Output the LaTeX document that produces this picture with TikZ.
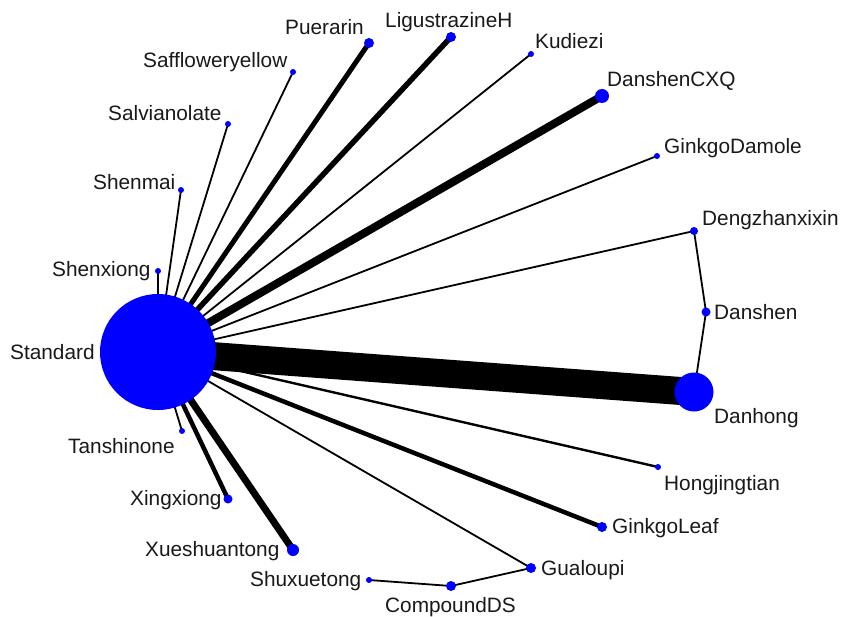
\documentclass[tikz,border=0pt]{standalone}
\usepackage{fontspec}
\setmainfont{Liberation Sans}
\pgfdeclarelayer{bg}
\pgfsetlayers{bg,main}
\begin{document}
\begin{tikzpicture}[x=1pt,y=-1pt,
  dot/.style={circle,fill=blue,draw=none,inner sep=0pt,minimum size=#1},
  lab/.style={font=\fontsize{20.8}{24}\selectfont,text=black!90,inner sep=0pt,text height=0.72em,text depth=0pt,anchor=west,yshift=-3pt},
  edge/.style={draw=black,line width=#1}]
\useasboundingbox (0,0) rectangle (842,617);
% nodes
\node[dot=116pt] (std) at (158,352) {};
\node[dot=39pt] (danhong) at (694,392) {};
\node[dot=9pt] (danshen) at (706,312) {};
\node[dot=8pt] (dengz) at (694,231) {};
\node[dot=6pt] (gdam) at (657,156) {};
\node[dot=14pt] (dcxq) at (602,96) {};
\node[dot=6pt] (kud) at (531,54) {};
\node[dot=10pt] (lig) at (451,37) {};
\node[dot=10pt] (pue) at (369,43) {};
\node[dot=6pt] (saf) at (293,72) {};
\node[dot=6pt] (salv) at (228,124) {};
\node[dot=6pt] (shenmai) at (181,190) {};
\node[dot=6pt] (shenx) at (158,271) {};
\node[dot=6pt] (tan) at (182,431) {};
\node[dot=9pt] (xingx) at (228,499) {};
\node[dot=12pt] (xue) at (293,550) {};
\node[dot=6pt] (shux) at (369,580) {};
\node[dot=10pt] (cds) at (451,586) {};
\node[dot=10pt] (gual) at (531,568) {};
\node[dot=10pt] (gleaf) at (602,527) {};
\node[dot=6pt] (hong) at (658,467) {};
% edges
\begin{pgfonlayer}{bg}
\fill[white] (0,0) rectangle (842,617);
\draw[edge=28pt] (std.center) -- (danhong.center);
\draw[edge=8pt] (std.center) -- (dcxq.center);
\draw[edge=5.5pt] (std.center) -- (lig.center);
\draw[edge=5pt] (std.center) -- (pue.center);
\draw[edge=7pt] (std.center) -- (xue.center);
\draw[edge=4.5pt] (std.center) -- (xingx.center);
\draw[edge=4.5pt] (std.center) -- (gleaf.center);
\draw[edge=1.8pt] (std.center) -- (dengz.center);
\draw[edge=1.8pt] (std.center) -- (gdam.center);
\draw[edge=1.8pt] (std.center) -- (kud.center);
\draw[edge=1.8pt] (std.center) -- (saf.center);
\draw[edge=1.8pt] (std.center) -- (salv.center);
\draw[edge=1.8pt] (std.center) -- (shenmai.center);
\draw[edge=1.8pt] (std.center) -- (shenx.center);
\draw[edge=1.8pt] (std.center) -- (tan.center);
\draw[edge=1.8pt] (std.center) -- (gual.center);
\draw[edge=2.4pt] (std.center) -- (hong.center);
\draw[edge=1.8pt] (dengz.center) -- (danshen.center);
\draw[edge=1.8pt] (danshen.center) -- (danhong.center);
\draw[edge=1.8pt] (gual.center) -- (cds.center);
\draw[edge=1.8pt] (cds.center) -- (shux.center);
\end{pgfonlayer}
% labels
\node[lab] (l1) at (285,28) {Puerarin};
\node[lab] (l2) at (385,21) {LigustrazineH};
\node[lab] (l3) at (535,42) {Kudiezi};
\node[lab] (l4) at (607,80) {DanshenCXQ};
\node[lab] (l5) at (664,147) {GinkgoDamole};
\node[lab] (l6) at (702,219) {Dengzhanxixin};
\node[lab] (l7) at (714,313) {Danshen};
\node[lab] (l8) at (714,417) {Danhong};
\node[lab] (l9) at (664,484) {Hongjingtian};
\node[lab] (l10) at (612,527) {GinkgoLeaf};
\node[lab] (l11) at (541,569) {Gualoupi};
\node[lab] (l12) at (385,606) {CompoundDS};
\node[lab] (l13) at (250,580) {Shuxuetong};
\node[lab] (l14) at (145,550) {Xueshuantong};
\node[lab] (l15) at (130,499) {Xingxiong};
\node[lab] (l16) at (68,447) {Tanshinone};
\node[lab] (l17) at (10,353) {Standard};
\node[lab] (l18) at (52,270) {Shenxiong};
\node[lab] (l19) at (93,183) {Shenmai};
\node[lab] (l20) at (108,114) {Salvianolate};
\node[lab] (l21) at (143,61) {Saffloweryellow};
\end{tikzpicture}
\end{document}
